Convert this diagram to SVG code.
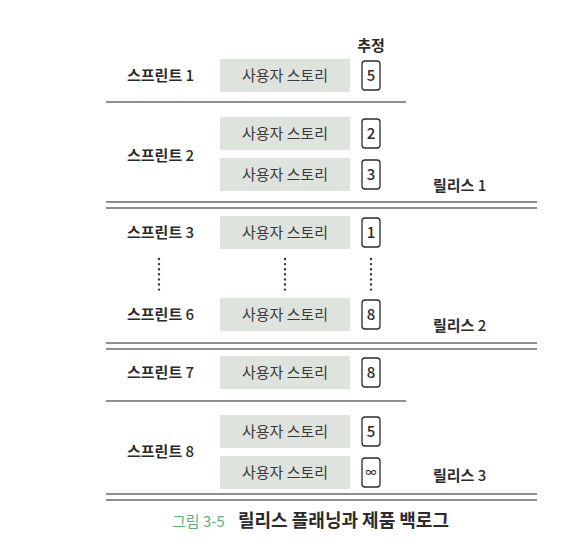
<svg xmlns="http://www.w3.org/2000/svg" width="571" height="556" viewBox="0 0 571 556">
<style>
text{font-family:"Noto Sans CJK KR","Noto Sans",sans-serif;fill:#2b2b2b}
.lbl{font-size:15px;font-weight:700}
.lbl tspan{font-weight:500}
.story{fill:#dfe3dd}
.st{font-size:15px;text-anchor:middle;fill:#3a3a3a}
.num{fill:#fff;stroke:#2b2b2b;stroke-width:1.3}
.nt{font-size:15px;font-weight:500;text-anchor:middle}
.rule{stroke:#6a6a6a;stroke-width:1.5;fill:none}
.dots{stroke:#333;stroke-width:2.4;stroke-linecap:round;stroke-dasharray:0 5.1;fill:none}
</style>
<rect width="571" height="556" fill="#fff"/>
<text x="371" y="51" class="lbl" text-anchor="middle">추정</text>
<g id="sprint1">
<text x="127" y="81" class="lbl">스프린트 <tspan>1</tspan></text>
<rect x="220" y="59" width="130" height="33" class="story"/>
<text x="285" y="81" class="st">사용자 스토리</text>
<rect x="362" y="61" width="18" height="29" rx="3" class="num"/>
<text x="371" y="81" class="nt">5</text>
</g>
<g id="sprint2">
<text x="127" y="161" class="lbl">스프린트 <tspan>2</tspan></text>
<rect x="220" y="117" width="130" height="33" class="story"/>
<text x="285" y="139" class="st">사용자 스토리</text>
<rect x="362" y="119" width="18" height="29" rx="3" class="num"/>
<text x="371" y="139" class="nt">2</text>
<rect x="220" y="158" width="130" height="33" class="story"/>
<text x="285" y="180" class="st">사용자 스토리</text>
<rect x="362" y="160" width="18" height="29" rx="3" class="num"/>
<text x="371" y="180" class="nt">3</text>
</g>
<g id="release1"><text x="433" y="191" class="lbl">릴리스 <tspan>1</tspan></text></g>
<g id="sprint3">
<text x="127" y="238" class="lbl">스프린트 <tspan>3</tspan></text>
<rect x="220" y="216" width="130" height="33" class="story"/>
<text x="285" y="238" class="st">사용자 스토리</text>
<rect x="362" y="218" width="18" height="29" rx="3" class="num"/>
<text x="371" y="238" class="nt">1</text>
</g>
<g id="sprint6">
<text x="127" y="320" class="lbl">스프린트 <tspan>6</tspan></text>
<rect x="220" y="298" width="130" height="33" class="story"/>
<text x="285" y="320" class="st">사용자 스토리</text>
<rect x="362" y="300" width="18" height="29" rx="3" class="num"/>
<text x="371" y="320" class="nt">8</text>
</g>
<g id="release2"><text x="433" y="331" class="lbl">릴리스 <tspan>2</tspan></text></g>
<g id="sprint7">
<text x="127" y="378" class="lbl">스프린트 <tspan>7</tspan></text>
<rect x="220" y="356" width="130" height="33" class="story"/>
<text x="285" y="378" class="st">사용자 스토리</text>
<rect x="362" y="358" width="18" height="29" rx="3" class="num"/>
<text x="371" y="378" class="nt">8</text>
</g>
<g id="sprint8">
<text x="127" y="457" class="lbl">스프린트 <tspan>8</tspan></text>
<rect x="220" y="415" width="130" height="33" class="story"/>
<text x="285" y="437" class="st">사용자 스토리</text>
<rect x="362" y="417" width="18" height="29" rx="3" class="num"/>
<text x="371" y="437" class="nt">5</text>
<rect x="220" y="456" width="130" height="33" class="story"/>
<text x="285" y="478" class="st">사용자 스토리</text>
<rect x="362" y="458" width="18" height="29" rx="3" class="num"/>
<text x="371" y="477" class="nt" style="font-size:11px">∞</text>
</g>
<g id="release3"><text x="433" y="481" class="lbl">릴리스 <tspan>3</tspan></text></g>
<g id="connectors">
<line x1="106" y1="102" x2="406" y2="102" class="rule"/>
<line x1="106" y1="202" x2="537" y2="202" class="rule"/>
<line x1="106" y1="208" x2="537" y2="208" class="rule"/>
<line x1="106" y1="343" x2="537" y2="343" class="rule"/>
<line x1="106" y1="349" x2="537" y2="349" class="rule"/>
<line x1="106" y1="401" x2="406" y2="401" class="rule"/>
<line x1="106" y1="494" x2="537" y2="494" class="rule"/>
<line x1="106" y1="500" x2="537" y2="500" class="rule"/>
<line x1="159" y1="259" x2="159" y2="290" class="dots"/>
<line x1="285" y1="259" x2="285" y2="290" class="dots"/>
<line x1="371" y1="259" x2="371" y2="290" class="dots"/>
</g>
<g id="caption">
<text x="172" y="527" style="font-size:15px;fill:#5fae7f">그림 3-5</text>
<text x="238" y="527" style="font-size:18px;font-weight:700">릴리스 플래닝과 제품 백로그</text>
</g>
</svg>
